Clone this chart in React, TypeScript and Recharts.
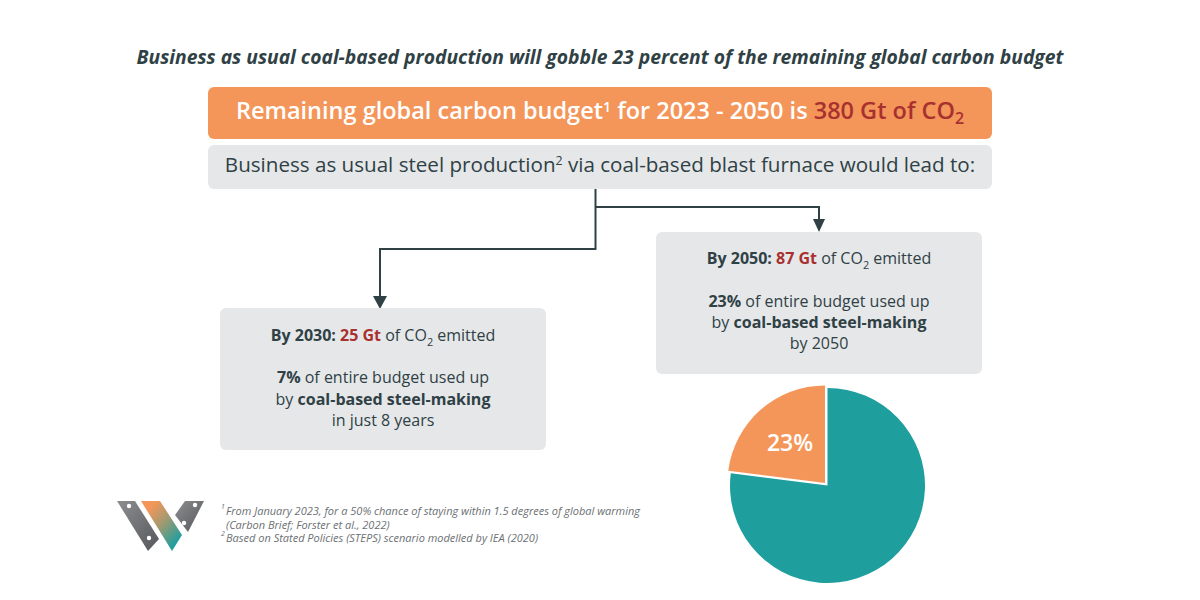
import React from "react";
import { PieChart, Pie, Cell, Sector } from "recharts";

const FONT = "'Open Sans', 'Noto Sans', sans-serif";
const ORANGE = "#F4965A";
const TEAL = "#1F9E9E";
const PANEL = "#E6E7E9";
const DARK = "#2F4145";
const RED = "#A8302F";

const sliceNames = ["Rest of budget", "Coal-based steel-making"];
const sliceValues = [77, 23];
const sliceColors = [TEAL, ORANGE];
const pieData = sliceNames.map((name, i) => ({ name, value: sliceValues[i] }));

const titleText = "Business as usual coal-based production will gobble 23 percent of the remaining global carbon budget";
const footnotes = [
  "From January 2023, for a 50% chance of staying within 1.5 degrees of global warming",
  "(Carbon Brief; Forster et al., 2022)",
  "Based on Stated Policies (STEPS) scenario modelled by IEA (2020)",
];

const Offset = (props: any) => {
  const isOrange = props.name === sliceNames[1];
  return (
    <Sector
      {...props}
      cx={isOrange ? props.cx - 2.5 : props.cx}
      cy={isOrange ? props.cy - 2.5 : props.cy}
      fill={sliceColors[isOrange ? 1 : 0]}
      stroke="none"
    />
  );
};

const Panel = ({ x, y, w, h, fill = PANEL }: any) => <rect x={x} y={y} width={w} height={h} rx={6} fill={fill} />;
const Sub = ({ children, dy = 5 }: any) => (
  <tspan dy={dy} fontSize="0.68em">{children}</tspan>
);
const Sup = ({ children }: any) => (
  <tspan dy={-7} fontSize="0.6em">{children}</tspan>
);

const Logo = () => (
  <g>
    <defs>
      <linearGradient id="wg" x1="0.15" y1="0.05" x2="0.85" y2="0.85">
        <stop offset="0.1" stopColor={ORANGE} />
        <stop offset="0.5" stopColor="#A49A70" />
        <stop offset="1" stopColor={TEAL} />
      </linearGradient>
      <linearGradient id="gg" x1="0" y1="0" x2="1" y2="1">
        <stop offset="0" stopColor="#8C8D8F" />
        <stop offset="1" stopColor="#55585B" />
      </linearGradient>
    </defs>
    <polygon points="117,501 135,501 159,539 148,551" fill="url(#gg)" />
    <polygon points="141,501 160,501 182,535 172,551" fill="url(#wg)" />
    <polygon points="175,515 185,501 204,501 188,532" fill="url(#gg)" />
    <circle cx={129} cy={506} r={2.2} fill="#fff" />
    <circle cx={149} cy={538} r={2.2} fill="#fff" />
    <circle cx={195} cy={505} r={2.2} fill="#fff" />
    <circle cx={184} cy={523} r={2.2} fill="#fff" />
  </g>
);

export default function App() {
  return (
    <div style={{ position: "absolute", left: 0, top: 0, width: 1200, height: 600, background: "#fff", fontFamily: FONT }}>
      <svg width={1200} height={600} style={{ position: "absolute", left: 0, top: 0 }} fontFamily={FONT}>
        <text x={600} y={64} textAnchor="middle" fontSize={19.3} fontWeight={700} fontStyle="italic" fill={DARK}>{titleText}</text>

        <Panel x={208} y={87} w={784} h={52} fill={ORANGE} />
        <text x={600} y={119} textAnchor="middle" fontSize={23.5} fontWeight={600} fill="#fff">
          Remaining global carbon budget<Sup>1</Sup><tspan dy={7}> for 2023 - 2050 is </tspan>
          <tspan fill={RED}>380 Gt of CO<Sub>2</Sub></tspan>
        </text>

        <Panel x={208} y={145} w={784} h={44} />
        <text x={600} y={172} textAnchor="middle" fontSize={20.6} fill={DARK}>
          Business as usual steel production<Sup>2</Sup><tspan dy={7}> via coal-based blast furnace would lead to:</tspan>
        </text>

        <polyline points="595.5,189 595.5,249 380,249 380,298" fill="none" stroke={DARK} strokeWidth={2} />
        <polygon points="373,296 387,296 380,309" fill={DARK} />
        <polyline points="595.5,207 819,207 819,222" fill="none" stroke={DARK} strokeWidth={2} />
        <polygon points="813,219 825,219 819,232" fill={DARK} />

        <Panel x={220} y={308} w={326} h={142} />
        <g textAnchor="middle" fontSize={16} fill={DARK}>
          <text x={383} y={341}>
            <tspan fontWeight={700}>By 2030: </tspan><tspan fontWeight={700} fill={RED}>25 Gt</tspan> of CO<Sub>2</Sub><tspan dy={-5}> emitted</tspan>
          </text>
          <text x={383} y={383}><tspan fontWeight={700}>7%</tspan> of entire budget used up</text>
          <text x={383} y={405}>by <tspan fontWeight={700}>coal-based steel-making</tspan></text>
          <text x={383} y={426}>in just 8 years</text>
        </g>

        <Panel x={656} y={232} w={326} h={142} />
        <g textAnchor="middle" fontSize={16} fill={DARK}>
          <text x={819} y={264}>
            <tspan fontWeight={700}>By 2050: </tspan><tspan fontWeight={700} fill={RED}>87 Gt</tspan> of CO<Sub>2</Sub><tspan dy={-5}> emitted</tspan>
          </text>
          <text x={819} y={307}><tspan fontWeight={700}>23%</tspan> of entire budget used up</text>
          <text x={819} y={328}>by <tspan fontWeight={700}>coal-based steel-making</tspan></text>
          <text x={819} y={349}>by 2050</text>
        </g>

        <Logo />
        <g fontSize={11} fontStyle="italic" fill="#6B7073">
          <text x={221} y={509} fontSize={7}>1</text>
          <text x={226} y={515}>{footnotes[0]}</text>
          <text x={226} y={529}>{footnotes[1]}</text>
          <text x={221} y={536} fontSize={7}>2</text>
          <text x={226} y={542}>{footnotes[2]}</text>
        </g>
      </svg>

      <div style={{ position: "absolute", left: 0, top: 0 }}>
        <PieChart width={1200} height={600} margin={{ top: 0, right: 0, bottom: 0, left: 0 }}>
          <Pie
            data={pieData}
            dataKey="value"
            nameKey="name"
            cx={827.5}
            cy={485.5}
            outerRadius={97.5}
            innerRadius={0}
            startAngle={90}
            endAngle={-270}
            stroke="none"
            shape={Offset}
            isAnimationActive={false}
          >
            {pieData.map((d, i) => (
              <Cell key={d.name} fill={sliceColors[i]} />
            ))}
          </Pie>
        </PieChart>
      </div>

      <svg width={1200} height={600} style={{ position: "absolute", left: 0, top: 0, pointerEvents: "none" }} fontFamily={FONT}>
        <text x={790} y={451} textAnchor="middle" fontSize={23} fontWeight={600} fill="#fff">23%</text>
      </svg>
    </div>
  );
}
